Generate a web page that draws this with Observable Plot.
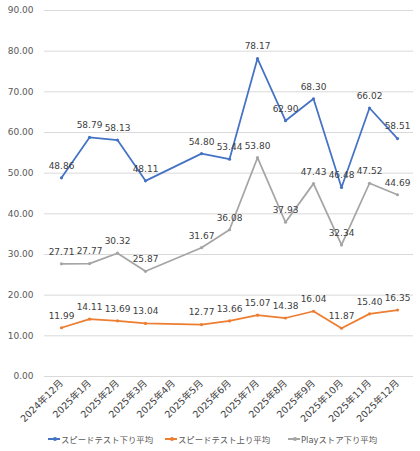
<!DOCTYPE html>
<html>
<head>
<meta charset="utf-8">
<script src="https://cdn.jsdelivr.net/npm/d3@7"></script>
<script src="https://cdn.jsdelivr.net/npm/@observablehq/plot@0.6"></script>
<style>
  body { margin: 0; background: #fff; font-family: "DejaVu Sans", "Noto Sans CJK JP", sans-serif; }
  #wrap { width: 420px; }
  #legend { height: 26px; font-size: 8.4px; color: #595959; position: relative; }
  .item { position: absolute; top: 8px; display: flex; align-items: center; white-space: nowrap; }
  .sw { display: inline-block; width: 12px; height: 1.5px; margin-right: 1px; position: relative; }
  .sw i { position: absolute; left: 4.5px; top: -1.2px; width: 4px; height: 4px; border-radius: 2px; }
</style>
</head>
<body>
<div id="wrap">
  <div id="chart"></div>
  <div id="legend"></div>
</div>
<script>
const months = ["2024年12月","2025年1月","2025年2月","2025年3月","2025年4月","2025年5月","2025年6月","2025年7月","2025年8月","2025年9月","2025年10月","2025年11月","2025年12月"];
const seriesNames = ["スピードテスト下り平均","スピードテスト上り平均","Playストア下り平均"];
const seriesColors = ["#4472C4","#ED7D31","#A5A5A5"];
const downSpeed = [48.86,58.79,58.13,48.11,null,54.80,53.44,78.17,62.90,68.30,46.48,66.02,58.51];
const upSpeed = [11.99,14.11,13.69,13.04,null,12.77,13.66,15.07,14.38,16.04,11.87,15.40,16.35];
const playDown = [27.71,27.77,30.32,25.87,null,31.67,36.08,53.80,37.93,47.43,32.34,47.52,44.69];
const yTicks = [0,10,20,30,40,50,60,70,80,90];

const allSeries = [downSpeed, upSpeed, playDown];
const rows = [];
allSeries.forEach((vals, si) => {
  vals.forEach((v, i) => {
    if (v != null) rows.push({month: months[i], value: v, series: seriesNames[si]});
  });
});

const chart = Plot.plot({
  width: 420,
  height: 425,
  marginLeft: 44,
  marginRight: 7,
  marginTop: 10,
  marginBottom: 49,
  style: {fontFamily: '"DejaVu Sans", "Noto Sans CJK JP", sans-serif', fontSize: "9px", color: "#595959", background: "#fff"},
  x: {type: "point", domain: months, padding: 0.5, label: null},
  y: {domain: [0, 90], label: null},
  color: {domain: seriesNames, range: seriesColors},
  marks: [
    Plot.ruleY(yTicks, {stroke: "#d9d9d9", strokeWidth: 1}),
    Plot.axisY(yTicks, {tickSize: 0, tickPadding: 11, tickFormat: d => d.toFixed(2), fill: "#595959", fontSize: 9}),
    Plot.axisX({tickSize: 0, tickPadding: 5, tickRotate: -45, fill: "#404040", fontSize: 9.5}),
    Plot.line(rows, {x: "month", y: "value", z: "series", stroke: "series", strokeWidth: 1.75}),
    Plot.dot(rows, {x: "month", y: "value", fill: "series", r: 1.6}),
    Plot.text(rows, {x: "month", y: "value", text: d => d.value.toFixed(2), dy: -12, fill: "#404040", fontSize: 9})
  ]
});
document.getElementById("chart").appendChild(chart);

const legend = document.getElementById("legend");
const lefts = [48, 165, 288];
seriesNames.forEach((name, i) => {
  const item = document.createElement("div");
  item.className = "item";
  item.style.left = lefts[i] + "px";
  const sw = document.createElement("span");
  sw.className = "sw";
  sw.style.background = seriesColors[i];
  const dot = document.createElement("i");
  dot.style.background = seriesColors[i];
  sw.appendChild(dot);
  item.appendChild(sw);
  const t = document.createElement("span");
  t.textContent = name;
  item.appendChild(t);
  legend.appendChild(item);
});
</script>
</body>
</html>
